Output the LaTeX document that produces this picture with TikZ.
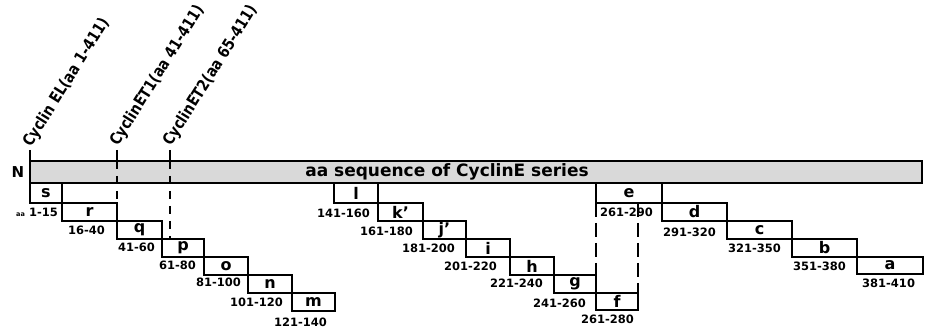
\documentclass[tikz,border=0pt]{standalone}
\usepackage{fontspec}
\setmainfont{DejaVu Sans}
\newfontfamily\condfont[FakeStretch=0.85]{DejaVu Sans}
\newcommand\seg[6]{\node[segbox, minimum width={#4pt-#2pt}, minimum height={#5pt-#3pt}, anchor=north west] (#1) at (#2,#3) {#6};}
\begin{document}
\begin{tikzpicture}[x=1pt,y=-1pt,
  segbox/.style={draw, line width=1.8pt, inner sep=0pt, outer sep=0pt, font=\bfseries\fontsize{16}{16}\selectfont},
  rng/.style={inner sep=0pt, font=\bfseries\fontsize{11.5}{12}\selectfont},
  vlab/.style={rotate=58, anchor=base west, inner sep=0pt, font=\condfont\bfseries\fontsize{16}{16}\selectfont},
  big/.style={inner sep=0pt, font=\bfseries\fontsize{15}{15}\selectfont},
  solidln/.style={line width=1.8pt},
  dsh/.style={line width=1.8pt, dash pattern=on 8pt off 7pt},
  dshb/.style={line width=1.8pt, dash pattern=on 14pt off 6pt},
]
\useasboundingbox (0,0) rectangle (927,331);
\clip (0,0) rectangle (927,331);
% main bar
\node[draw, line width=2pt, fill=black!15, minimum width=892pt, minimum height=22pt, anchor=north west, inner sep=0pt, outer sep=0pt] (bar) at (30,161) {};
\node[inner sep=0pt, font=\bfseries\fontsize{17}{17}\selectfont] (bartext) at (447,172) {aa sequence of CyclinE series};
\node[big] (N) at (18,172) {N};
\node[big] (C) at (933,172) {C};
% segments
\seg{s}{30}{183}{62}{203}{s}
\seg{r}{62}{203}{117}{221}{r}
\seg{q}{117}{221}{162}{239}{q}
\seg{p}{162}{239}{204}{257}{p}
\seg{o}{204}{257}{248}{275}{o}
\seg{n}{248}{275}{292}{293}{n}
\seg{m}{292}{293}{335}{311}{m}
\seg{l}{334}{183}{378}{203}{l}
\seg{k}{378}{203}{423}{221}{k'}
\seg{j}{423}{221}{466}{239}{j'}
\seg{i}{466}{239}{510}{257}{i}
\seg{h}{510}{257}{554}{275}{h}
\seg{g}{554}{275}{596}{293}{g}
\seg{f}{596}{293}{638}{310}{f}
\seg{e}{596}{183}{662}{203}{e}
\seg{d}{662}{203}{727}{221}{d}
\seg{c}{727}{221}{792}{239}{c}
\seg{b}{792}{239}{857}{257}{b}
\seg{a}{857}{257}{923}{274}{a}
% range labels
\node[rng, anchor=east] (ls) at (58,212) {{\fontsize{6.5}{7}\selectfont aa} 1-15};
\node[rng, anchor=east] (lr) at (105,230) {16-40};
\node[rng, anchor=east] (lq) at (155,247) {41-60};
\node[rng, anchor=east] (lp) at (196,265) {61-80};
\node[rng, anchor=east] (lo) at (241,282) {81-100};
\node[rng, anchor=east] (ln) at (283,302) {101-120};
\node[rng, anchor=east] (lm) at (327,322) {121-140};
\node[rng, anchor=east] (ll) at (370,213) {141-160};
\node[rng, anchor=east] (lk) at (413,231) {161-180};
\node[rng, anchor=east] (lj) at (455,248) {181-200};
\node[rng, anchor=east] (li) at (497,266) {201-220};
\node[rng, anchor=east] (lh) at (543,283) {221-240};
\node[rng, anchor=east] (lg) at (586,303) {241-260};
\node[rng, anchor=east] (lf) at (634,319) {261-280};
\node[rng, anchor=west] (le) at (600,212) {261-290};
\node[rng, anchor=west] (ld) at (663,232) {291-320};
\node[rng, anchor=west] (lc) at (728,248) {321-350};
\node[rng, anchor=west] (lb) at (793,266) {351-380};
\node[rng, anchor=west] (la) at (862,283) {381-410};
% start markers
\coordinate (t0) at (30,150);
\coordinate (t1) at (117,150);
\coordinate (t1b) at (117,161);
\coordinate (t2) at (170,150);
\coordinate (t2b) at (170,161);
\coordinate (t2c) at (170,239);
\draw[solidln] (t0) -- (s.south west);
\draw[solidln] (t1) -- (t1b);
\draw[dsh] (t1b) -- (r.north east);
\draw[solidln] (t2) -- (t2b);
\draw[dsh] (t2b) -- (t2c);
\node[vlab] (v0) at (31,148) {Cyclin EL(aa 1-411)};
\node[vlab] (v1) at (118,147) {CyclinET1(aa 41-411)};
\node[vlab] (v2) at (171,147) {CyclinET2(aa 65-411)};
% e/f dashed guides
\coordinate (ef) at (638,203);
\draw[dshb] (e.south west) -- (g.north east);
\draw[dshb] (ef) -- (f.north east);
\end{tikzpicture}
\end{document}
